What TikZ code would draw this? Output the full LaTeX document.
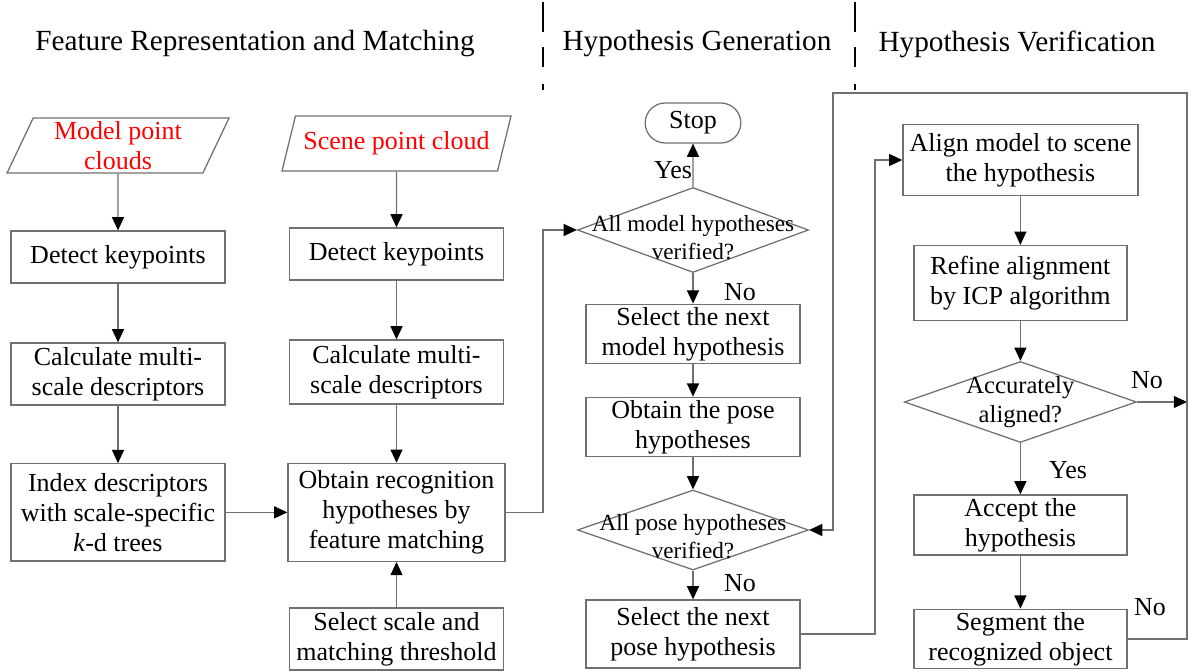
\documentclass[tikz,border=0pt]{standalone}
\usepackage{fontspec}
\setmainfont{Liberation Serif}
\usepackage{tikz}
\usetikzlibrary{shapes.geometric}
\usetikzlibrary{shapes.misc}
\usetikzlibrary{arrows.meta}
\definecolor{linegray}{RGB}{112,112,112}
\definecolor{inred}{RGB}{255,0,0}
\pgfdeclarelayer{nodelayer}
\pgfdeclarelayer{edgelayer}
\pgfsetlayers{edgelayer,nodelayer,main}
\tikzstyle{none}=[inner sep=0pt]
\tikzstyle{proc}=[shape=rectangle, draw=linegray, line width=0.9pt, align=center, inner sep=2pt,
minimum width=5.35cm, font=\fontsize{18.5}{21.5}\selectfont]
\tikzstyle{inout}=[shape=trapezium, trapezium left angle=63, trapezium right angle=117,
trapezium stretches body=true, draw=linegray, line width=0.9pt, align=center, text=inred,
inner sep=1pt, font=\fontsize{18.5}{21.5}\selectfont]
\tikzstyle{choice}=[shape=diamond, draw=linegray, line width=0.9pt, inner sep=0pt]
\tikzstyle{stopbox}=[shape=rounded rectangle, draw=linegray, line width=0.9pt,
minimum width=2.625cm, minimum height=1cm, font=\fontsize{18.5}{21.5}\selectfont]
\tikzstyle{txt}=[inner sep=0pt, align=center, font=\fontsize{16.5}{20}\selectfont]
\tikzstyle{branch}=[inner sep=0pt, font=\fontsize{18.5}{21.5}\selectfont]
\tikzstyle{heading}=[inner sep=0pt, font=\fontsize{20.8}{24}\selectfont]
\tikzstyle{flow}=[draw=linegray, line width=0.9pt, -{Triangle[length=0.33cm, width=0.3cm, color=black]}]
\tikzstyle{divider}=[draw=black, line width=2pt, dash pattern=on 0.75cm off 0.375cm on 0.5cm off 0.425cm]

\begin{document}
\begin{tikzpicture}
	\useasboundingbox (0,0) rectangle (29.775,16.8);
	\begin{pgfonlayer}{nodelayer}
		\node [style=heading] (0) at (6.375, 15.7) {Feature Representation and Matching};
		\node [style=heading] (1) at (17.425, 15.7) {Hypothesis Generation};
		\node [style=heading] (2) at (25.425, 15.7) {Hypothesis Verification};
		\node [style=inout, minimum width=5.55cm, minimum height=1.375cm] (3) at (2.95, 13.16) {Model point\\clouds};
		\node [style=proc, minimum height=1.3cm] (4) at (2.95, 10.375) {Detect keypoints};
		\node [style=proc, minimum height=1.55cm] (5) at (2.95, 7.45) {Calculate multi-\\scale descriptors};
		\node [style=proc, minimum height=2.43cm] (6) at (2.95, 3.99) {Index descriptors\\with scale-specific\\\textit{k}-d trees};
		\node [style=inout, minimum width=5.725cm, minimum height=1.375cm] (7) at (9.9125, 13.2125) {Scene point cloud};
		\node [style=proc, minimum height=1.3cm] (8) at (9.9125, 10.45) {Detect keypoints};
		\node [style=proc, minimum height=1.6cm] (9) at (9.9125, 7.5) {Calculate multi-\\scale descriptors};
		\node [style=proc, minimum width=5.425cm, minimum height=2.45cm] (10) at (9.9125, 3.99) {Obtain recognition\\hypotheses by\\feature matching};
		\node [style=proc, minimum height=1.55cm] (11) at (9.9125, 0.825) {Select scale and\\matching threshold};
		\node [style=stopbox] (12) at (17.325, 13.725) {Stop};
		\node [style=choice, minimum width=5.775cm, minimum height=2.125cm] (13) at (17.325, 11.05) {};
		\node [style=txt] (14) at (17.325, 10.85) {All model hypotheses\\verified?};
		\node [style=proc, minimum height=1.45cm] (15) at (17.325, 8.45) {Select the next\\model hypothesis};
		\node [style=proc, minimum height=1.4cm] (16) at (17.325, 6.125) {Obtain the pose\\hypotheses};
		\node [style=choice, minimum width=5.775cm, minimum height=2cm] (17) at (17.325, 3.55) {};
		\node [style=txt] (18) at (17.325, 3.375) {All pose hypotheses\\verified?};
		\node [style=proc, minimum height=1.7cm] (19) at (17.325, 0.95) {Select the next\\pose hypothesis};
		\node [style=proc, minimum width=5.875cm, minimum height=1.775cm] (20) at (25.51, 12.8) {Align model to scene\\the hypothesis};
		\node [style=proc, minimum width=5.325cm, minimum height=1.875cm] (21) at (25.51, 9.725) {Refine alignment\\by ICP algorithm};
		\node [style=choice, minimum width=5.8cm, minimum height=2.025cm] (22) at (25.51, 6.75) {};
		\node [style=txt, font=\fontsize{17.5}{20.5}\selectfont] (23) at (25.51, 6.75) {Accurately\\aligned?};
		\node [style=proc, minimum width=5.325cm, minimum height=1.5cm] (24) at (25.51, 3.675) {Accept the\\hypothesis};
		\node [style=proc, minimum width=5.325cm, minimum height=1.45cm] (25) at (25.51, 0.825) {Segment the\\recognized object};
		% yes / no
		\node [style=branch] (26) at (16.825, 12.55) {Yes};
		\node [style=branch] (27) at (18.5, 9.5) {No};
		\node [style=branch] (28) at (18.5, 2.225) {No};
		\node [style=branch] (29) at (28.675, 7.3) {No};
		\node [style=branch] (30) at (26.7, 5.05) {Yes};
		\node [style=branch] (31) at (28.75, 1.625) {No};
		% bends
		\coordinate (32) at (13.575, 11.05);
		\coordinate (33) at (21.875, 12.8);
		\coordinate (34) at (29.675, 14.475);
		\coordinate (35) at (29.675, 6.75);
		\coordinate (36) at (20.825, 3.55);
		\coordinate (37) at (13.575, 16.75);
		\coordinate (38) at (13.575, 14.55);
		\coordinate (39) at (21.375, 16.75);
		\coordinate (40) at (21.375, 14.55);
	\end{pgfonlayer}
	\begin{pgfonlayer}{edgelayer}
		\draw [style=divider] (37) to (38);
		\draw [style=divider] (39) to (40);
		\draw [style=flow] (3) to (4);
		\draw [style=flow] (4) to (5);
		\draw [style=flow] (5) to (6);
		\draw [style=flow] (7) to (8);
		\draw [style=flow] (8) to (9);
		\draw [style=flow] (9) to (10);
		\draw [style=flow] (11) to (10);
		\draw [style=flow] (6) to (10);
		\draw [style=flow] (10.east) -| (32) to (13.west);
		\draw [style=flow] (13) to (12);
		\draw [style=flow] (13) to (15);
		\draw [style=flow] (15) to (16);
		\draw [style=flow] (16) to (17);
		\draw [style=flow] (17) to (19);
		\draw [style=flow] (19.east) -| (33) to (20.west);
		\draw [style=flow] (20) to (21);
		\draw [style=flow] (21) to (22);
		\draw [style=flow] (22) to (24);
		\draw [style=flow] (24) to (25);
		\draw [style=flow] (22.east) to (35);
		\draw [style=flow] (25.east) -| (34) -| (36) to (17.east);
	\end{pgfonlayer}
\end{tikzpicture}
\end{document}
